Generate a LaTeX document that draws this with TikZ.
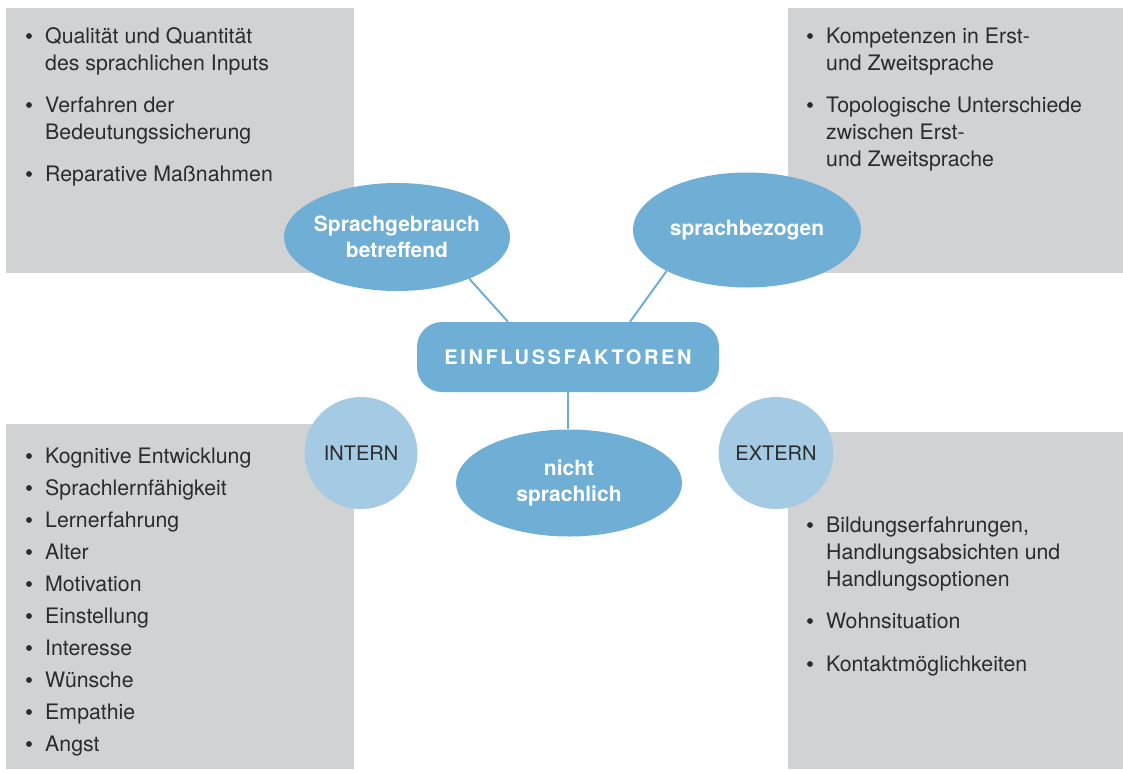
\documentclass[tikz,border=0pt]{standalone}
\usepackage{fontspec}
\setmainfont{TeX Gyre Heros}
\usetikzlibrary{shapes.geometric}
\definecolor{panelgray}{HTML}{D1D2D4}
\definecolor{bubbleblue}{HTML}{6FAED5}
\definecolor{paleblue}{HTML}{A5CAE3}
\definecolor{ink}{HTML}{2B2B2B}
% #1 name, #2 x, #3 first baseline, #4 number of lines, #5 text
\newcommand\bulletitem[5]{%
  \node[itemtext] (#1) at ({#2},{#3+27*(#4-1)}) {#5};
  \node[bul] (#1b) at ({#2-16},{#3-7}) {};}
\begin{document}
\begin{tikzpicture}[x=1pt,y=-1pt,
  panel/.style={fill=panelgray},
  itemtext/.style={font=\fontsize{21.3}{27}\selectfont, text=ink, align=left, inner sep=0pt, anchor=base west},
  bul/.style={circle, fill=ink, inner sep=0pt, minimum size=5.8pt},
  bubble/.style={ellipse, fill=bubbleblue, text=white, align=center, inner xsep=-8pt, inner ysep=0pt,
    font=\fontsize{21}{26}\selectfont\bfseries},
  side/.style={ellipse, fill=paleblue, text=ink, inner sep=0pt,
    minimum width=113pt, minimum height=112pt, font=\fontsize{20}{24}\selectfont},
  hubbox/.style={rectangle, rounded corners=25pt, fill=bubbleblue, text=white, inner sep=0pt,
    minimum width=302pt, minimum height=70pt,
    font=\fontsize{20}{24}\selectfont\bfseries\addfontfeature{LetterSpace=13}},
  link/.style={draw=bubbleblue, line width=2pt}]
\useasboundingbox (0,0) rectangle (1123,769);

% grey background panels
\fill[panel] (6,8) rectangle (354,273);
\fill[panel] (788,8) rectangle (1123,273);
\fill[panel] (6,424) rectangle (354,769);
\fill[panel] (788,432) rectangle (1123,769);

% top left list
\bulletitem{tl1}{45}{43}{2}{Qualität und Quantität\\des sprachlichen Inputs}
\bulletitem{tl2}{45}{112}{2}{Verfahren der\\Bedeutungssicherung}
\bulletitem{tl3}{45}{181}{1}{Reparative Maßnahmen}

% top right list
\bulletitem{tr1}{826}{43}{2}{Kompetenzen in Erst-\\und Zweitsprache}
\bulletitem{tr2}{826}{112}{3}{Topologische Unterschiede\\zwischen Erst-\\und Zweitsprache}

% bottom left list
\bulletitem{bl1}{45}{463}{1}{Kognitive Entwicklung}
\bulletitem{bl2}{45}{495}{1}{Sprachlernfähigkeit}
\bulletitem{bl3}{45}{527}{1}{Lernerfahrung}
\bulletitem{bl4}{45}{559}{1}{Alter}
\bulletitem{bl5}{45}{591}{1}{Motivation}
\bulletitem{bl6}{45}{623}{1}{Einstellung}
\bulletitem{bl7}{45}{655}{1}{Interesse}
\bulletitem{bl8}{45}{687}{1}{Wünsche}
\bulletitem{bl9}{45}{719}{1}{Empathie}
\bulletitem{bl10}{45}{751}{1}{Angst}

% bottom right list
\bulletitem{br1}{826}{532}{3}{Bildungserfahrungen,\\Handlungsabsichten und\\Handlungsoptionen}
\bulletitem{br2}{826}{628}{1}{Wohnsituation}
\bulletitem{br3}{826}{671}{1}{Kontaktmöglichkeiten}

% central map
\node[hubbox] (hub) at (568,357) {EINFLUSSFAKTOREN};
\node[bubble, minimum width=226pt, minimum height=108pt] (use) at (397,237) {Sprachgebrauch\\betreffend};
\node[bubble, minimum width=228pt, minimum height=115pt] (lang) at (747,230) {sprachbezogen};
\node[bubble, minimum width=226pt, minimum height=107pt] (non) at (569,483) {nicht\\sprachlich};
\node[side] (intern) at (361,453) {INTERN};
\node[side] (extern) at (776,453) {EXTERN};

\draw[link] (use.-30) -- ([xshift=-60pt]hub.north);
\draw[link] (lang.-153) -- ([xshift=62pt]hub.north);
\draw[link] (hub.south) -- (hub.south |- non.north);
\end{tikzpicture}
\end{document}
